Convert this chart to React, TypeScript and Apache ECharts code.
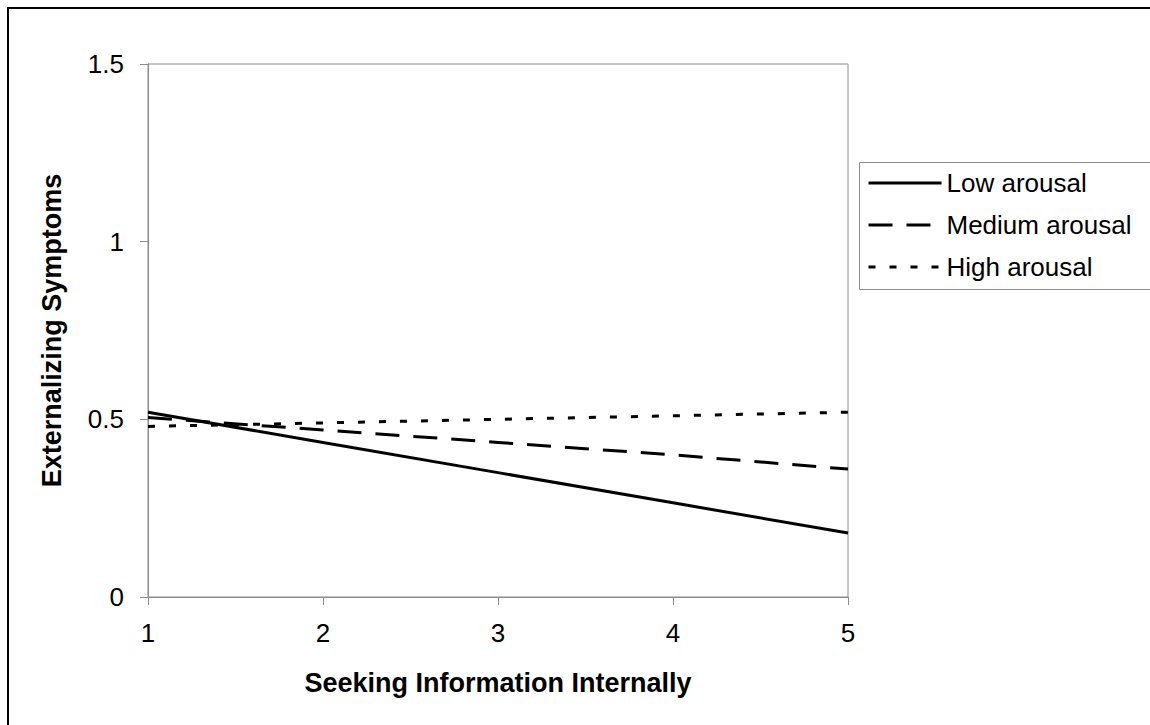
import React, { useEffect, useRef } from "react";
import * as echarts from "echarts";

const xValues = [1, 2, 3, 4, 5];
const lowArousal = [0.52, 0.435, 0.35, 0.265, 0.18];
const mediumArousal = [0.505, 0.47, 0.435, 0.4, 0.36];
const highArousal = [0.48, 0.49, 0.5, 0.51, 0.52];
const seriesNames = ["Low arousal", "Medium arousal", "High arousal"];
const xTitle = "Seeking Information Internally";
const yTitle = "Externalizing Symptoms";

const FONT = '"Liberation Sans", Arial, sans-serif';

export default function App() {
  const ref = useRef<HTMLDivElement>(null);
  useEffect(() => {
    if (!ref.current) return;
    const chart = echarts.init(ref.current, undefined, { renderer: "svg" });
    const pair = (ys: number[]) => xValues.map((x, i) => [x, ys[i]]);
    chart.setOption({
      animation: false,
      backgroundColor: "#fff",
      textStyle: { fontFamily: FONT },
      grid: {
        left: 148,
        top: 64,
        right: 302,
        bottom: 128,
        show: true,
        borderColor: "#8c8c8c",
        borderWidth: 1,
        backgroundColor: "transparent",
      },
      xAxis: {
        type: "value",
        min: 1,
        max: 5,
        interval: 1,
        name: xTitle,
        nameLocation: "middle",
        nameGap: 72,
        nameTextStyle: { fontSize: 27, fontWeight: "bold", color: "#000", fontFamily: FONT },
        axisLine: { show: true, lineStyle: { color: "#8c8c8c", width: 1 } },
        axisTick: { show: true, length: 8, lineStyle: { color: "#8c8c8c" } },
        axisLabel: { fontSize: 26, color: "#000", margin: 23, fontFamily: FONT },
        splitLine: { show: false },
      },
      yAxis: {
        type: "value",
        min: 0,
        max: 1.5,
        interval: 0.5,
        name: yTitle,
        nameLocation: "middle",
        nameGap: 83,
        nameTextStyle: { fontSize: 27, fontWeight: "bold", color: "#000", fontFamily: FONT },
        axisLine: { show: true, lineStyle: { color: "#8c8c8c", width: 1 } },
        axisTick: { show: true, length: 8, lineStyle: { color: "#8c8c8c" } },
        axisLabel: { fontSize: 26, color: "#000", margin: 24, fontFamily: FONT },
        splitLine: { show: false },
      },
      legend: {
        orient: "vertical",
        left: 867,
        top: 170,
        padding: 0,
        itemWidth: 73,
        itemHeight: 14,
        itemGap: 16,
        data: seriesNames,
        itemStyle: { opacity: 0 },
        lineStyle: { width: 3 },
        textStyle: { fontSize: 26, color: "#000", fontFamily: FONT, lineHeight: 26 },
      },
      graphic: [
        {
          type: "rect",
          left: 857,
          top: 160,
          shape: { width: 291, height: 127 },
          style: { fill: "none", stroke: "#8c8c8c", lineWidth: 1 },
          z: -1,
        },
        {
          type: "rect",
          shape: { x: 8, y: 8, width: 1200, height: 800 },
          style: { fill: "none", stroke: "#000", lineWidth: 2 },
          z: -1,
        },
      ],
      series: [
        {
          name: seriesNames[0],
          type: "line",
          data: pair(lowArousal),
          symbol: "none",
          lineStyle: { color: "#000", width: 3, type: "solid" },
          itemStyle: { color: "#000" },
        },
        {
          name: seriesNames[1],
          type: "line",
          data: pair(mediumArousal),
          symbol: "none",
          lineStyle: { color: "#000", width: 3, type: [24, 14] },
          itemStyle: { color: "#000" },
        },
        {
          name: seriesNames[2],
          type: "line",
          data: pair(highArousal),
          symbol: "none",
          lineStyle: { color: "#000", width: 3, type: [7, 14] },
          itemStyle: { color: "#000" },
        },
      ],
    });
    return () => chart.dispose();
  }, []);
  return (
    <div
      ref={ref}
      style={{ position: "fixed", left: 0, top: 0, width: 1150, height: 725 }}
    />
  );
}
